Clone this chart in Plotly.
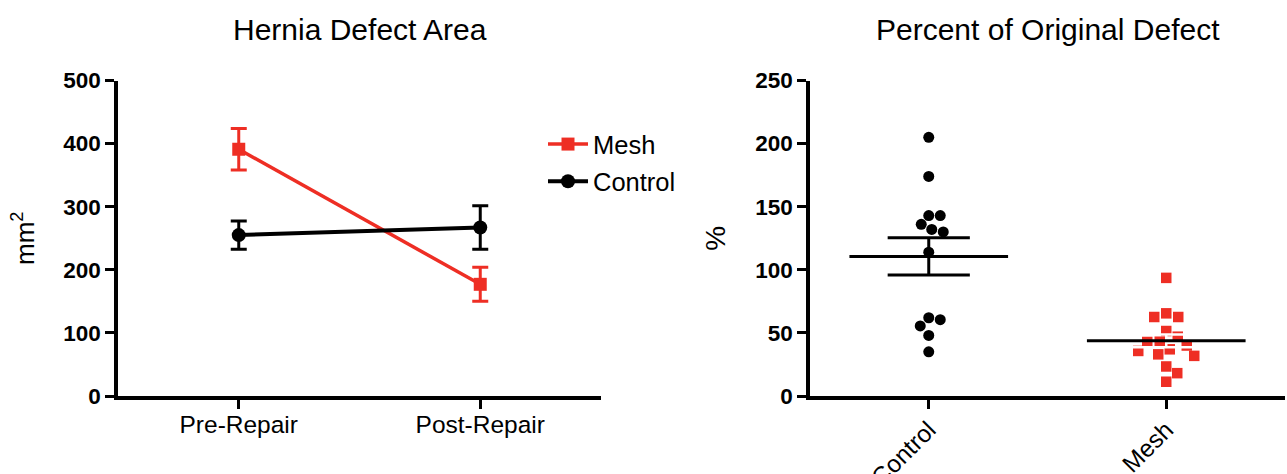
import numpy as np
import plotly.graph_objects as go

# ---------------- data ----------------
timepoints = ["Pre-Repair", "Post-Repair"]
mesh_area_mean = [391, 177]
mesh_area_sem = [33, 27]
control_area_mean = [255, 267]
control_area_sem = [22.5, 34.5]

groups = ["Control", "Mesh"]
control_pct = [205, 174, 143, 143, 136, 132, 130, 114, 62, 60.5, 55.5, 48, 35]
mesh_pct = [93.6, 65.5, 62.6, 62.6, 51.5, 47, 43, 42.8, 40, 37, 35.7, 33, 31.8, 23.4, 18.1, 11.3]

RED = "#EE2E24"
BLACK = "#000000"
FONT = "Liberation Sans, Arial, Helvetica, sans-serif"

W, H = 1287, 474
# pixel layout
L_X0, L_X1 = 118, 601
R_X0, R_X1 = 810, 1285
Y_TOP, Y_BOT = 80.5, 396

def beeswarm(values, ppu_y, ppu_x, diam):
    placed = []
    res = [0.0] * len(values)
    order = sorted(range(len(values)), key=lambda i: -values[i])
    for i in order:
        y = values[i] * ppu_y
        best = None
        step = 0
        while best is None:
            cands = [0.0] if step == 0 else [step * 0.5, -step * 0.5]
            for c in cands:
                if all((c - px) ** 2 + (y - py) ** 2 >= diam ** 2 for py, px in placed):
                    best = c
                    break
            step += 1
        placed.append((y, best))
        res[i] = best / ppu_x
    return res

ppu_y_right = (Y_BOT - Y_TOP) / 250.0
ppu_x_right = (R_X1 - R_X0) / 2.0

fig = go.Figure()

# ---- left panel ----
fig.add_trace(go.Scatter(
    x=[0, 1], y=mesh_area_mean, name="Mesh", mode="lines+markers",
    line=dict(color=RED, width=3.5),
    marker=dict(symbol="square", size=13, color=RED),
    error_y=dict(type="data", array=mesh_area_sem, color=RED, thickness=3, width=8),
    xaxis="x", yaxis="y", legendgroup="a"))
fig.add_trace(go.Scatter(
    x=[0, 1], y=control_area_mean, name="Control", mode="lines+markers",
    line=dict(color=BLACK, width=4),
    marker=dict(symbol="circle", size=14, color=BLACK),
    error_y=dict(type="data", array=control_area_sem, color=BLACK, thickness=3, width=8),
    xaxis="x", yaxis="y", legendgroup="b"))

# ---- right panel ----
def stats(v):
    a = np.array(v, dtype=float)
    return a.mean(), a.std(ddof=1) / np.sqrt(len(a))

MEAN_HW = 0.334
SEM_HW = 0.173

c_off = beeswarm(control_pct, ppu_y_right, ppu_x_right, 11.5)
fig.add_trace(go.Scatter(
    x=[0 + o for o in c_off], y=control_pct, mode="markers",
    marker=dict(symbol="circle", size=11, color=BLACK),
    xaxis="x2", yaxis="y2", showlegend=False))
cm, cs = stats(control_pct)
fig.add_trace(go.Scatter(
    x=[-MEAN_HW, MEAN_HW, None, -SEM_HW, SEM_HW, None, -SEM_HW, SEM_HW, None, 0, 0],
    y=[cm, cm, None, cm + cs, cm + cs, None, cm - cs, cm - cs, None, cm - cs, cm + cs],
    mode="lines", line=dict(color=BLACK, width=3),
    xaxis="x2", yaxis="y2", showlegend=False, hoverinfo="skip"))

m_off = beeswarm(mesh_pct, ppu_y_right, ppu_x_right, 12.5)
fig.add_trace(go.Scatter(
    x=[1 + o for o in m_off], y=mesh_pct, mode="markers",
    marker=dict(symbol="square", size=10.5, color=RED),
    xaxis="x2", yaxis="y2", showlegend=False))
mm, ms = stats(mesh_pct)
fig.add_trace(go.Scatter(
    x=[1 - SEM_HW, 1 + SEM_HW, None, 1 - SEM_HW, 1 + SEM_HW, None, 1, 1],
    y=[mm + ms, mm + ms, None, mm - ms, mm - ms, None, mm - ms, mm + ms],
    mode="lines", line=dict(color="white", width=2.5),
    xaxis="x2", yaxis="y2", showlegend=False, hoverinfo="skip"))
fig.add_trace(go.Scatter(
    x=[1 - MEAN_HW, 1 + MEAN_HW], y=[mm, mm],
    mode="lines", line=dict(color=BLACK, width=3),
    xaxis="x2", yaxis="y2", showlegend=False, hoverinfo="skip"))

ydom = [(H - Y_BOT) / H, (H - Y_TOP) / H]
axis_common = dict(showgrid=False, zeroline=False, showline=True, linecolor=BLACK,
                   linewidth=3.5, ticks="outside", ticklen=9, tickwidth=3,
                   tickcolor=BLACK, automargin=False)

fig.update_layout(
    width=W, height=H, margin=dict(l=0, r=0, t=0, b=0, autoexpand=False),
    paper_bgcolor="white", plot_bgcolor="white",
    font=dict(family=FONT, color=BLACK),
    xaxis=dict(domain=[L_X0 / W, L_X1 / W], range=[-0.5, 1.5], tickvals=[0, 1],
               ticktext=timepoints, tickfont=dict(size=24.5), anchor="y",
               ticklabelstandoff=-5, **axis_common),
    yaxis=dict(domain=ydom, range=[0, 500], tickvals=[0, 100, 200, 300, 400, 500],
               tickfont=dict(size=22.5, weight="bold"), anchor="x",
               title=dict(text="mm<sup>2</sup>", font=dict(size=26), standoff=22),
               **axis_common),
    xaxis2=dict(domain=[R_X0 / W, R_X1 / W], range=[-0.5, 1.5], tickvals=[0, 1],
                ticktext=groups, tickangle=-45, tickfont=dict(size=24.5), anchor="y2",
                ticklabelstandoff=-3, **axis_common),
    yaxis2=dict(domain=ydom, range=[0, 250], tickvals=[0, 50, 100, 150, 200, 250],
                tickfont=dict(size=22.5, weight="bold"), anchor="x2",
                title=dict(text="%", font=dict(size=28), standoff=22),
                **axis_common),
    legend=dict(x=543 / W, y=1 - 121 / H, xanchor="left", yanchor="top",
                font=dict(size=25.5), bgcolor="rgba(0,0,0,0)", traceorder="grouped",
                tracegroupgap=1, itemwidth=40),
    annotations=[
        dict(text="Hernia Defect Area", x=(L_X0 + L_X1) / 2 / W, y=1 - 29 / H,
             xref="paper", yref="paper", xanchor="center", yanchor="middle",
             showarrow=False, font=dict(size=30)),
        dict(text="Percent of Original Defect", x=(R_X0 + R_X1) / 2 / W, y=1 - 29 / H,
             xref="paper", yref="paper", xanchor="center", yanchor="middle",
             showarrow=False, font=dict(size=30)),
    ],
)

fig.write_html("out.html", config={"displayModeBar": False},
               post_script="document.body.style.margin='0px';")
